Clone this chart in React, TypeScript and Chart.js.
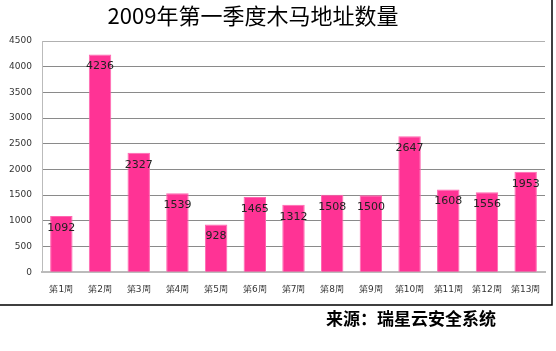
import React, { useEffect, useRef } from "react";
import { Chart, registerables } from "chart.js";

Chart.register(...registerables);

const titleText = "2009年第一季度木马地址数量";
const sourceText = "来源：瑞星云安全系统";
const weeks = ["第1周", "第2周", "第3周", "第4周", "第5周", "第6周", "第7周", "第8周", "第9周", "第10周", "第11周", "第12周", "第13周"];
const counts = [1092, 4236, 2327, 1539, 928, 1465, 1312, 1508, 1500, 2647, 1608, 1556, 1953];
const yMax = 4500;
const yStep = 500;

const labelPlugin = {
  id: "barLabels",
  afterDatasetsDraw(chart: any) {
    const ctx = chart.ctx;
    const meta = chart.getDatasetMeta(0);
    ctx.save();
    ctx.font = "11px 'DejaVu Sans', sans-serif";
    ctx.fillStyle = "#222";
    ctx.textAlign = "center";
    ctx.textBaseline = "middle";
    meta.data.forEach((bar: any, i: number) => {
      ctx.fillText(String(counts[i]), bar.x, bar.y + 12);
    });
    ctx.restore();
  },
};

const decorPlugin = {
  id: "decor",
  afterDraw(chart: any) {
    const ctx = chart.ctx;
    ctx.save();
    ctx.strokeStyle = "#000";
    ctx.lineWidth = 1.5;
    ctx.beginPath();
    ctx.moveTo(552, 0);
    ctx.lineTo(552, 305);
    ctx.lineTo(0, 305);
    ctx.stroke();
    ctx.fillStyle = "#000";
    ctx.textBaseline = "middle";
    ctx.textAlign = "center";
    ctx.font = "22px 'Noto Sans CJK SC'";
    ctx.fillText(titleText, 253, 16);
    ctx.textAlign = "right";
    ctx.font = "bold 17px 'Noto Sans CJK SC'";
    ctx.fillText(sourceText, 496, 319);
    ctx.restore();
  },
};

export default function App() {
  const ref = useRef<HTMLCanvasElement>(null);
  useEffect(() => {
    document.body.style.margin = "0";
    const chart = new Chart(ref.current!, {
      type: "bar",
      data: {
        labels: weeks,
        datasets: [
          {
            data: counts,
            backgroundColor: "#FF3395",
            borderColor: "#FF66B0",
            borderWidth: 1,
            categoryPercentage: 1,
            barPercentage: 0.58,
          },
        ],
      },
      options: {
        animation: false,
        responsive: false,
        maintainAspectRatio: false,
        layout: { padding: { left: 0, right: 11, top: 41, bottom: 52 } },
        plugins: {
          legend: { display: false },
          tooltip: { enabled: false },
          title: { display: false },
        },
        scales: {
          x: {
            grid: { display: false },
            border: { color: "#bbb", width: 2 },
            ticks: {
              color: "#333",
              font: { family: "'DejaVu Sans', sans-serif", size: 9 },
              maxRotation: 0,
              autoSkip: false,
              padding: 4,
            },
          },
          y: {
            min: 0,
            max: yMax,
            afterFit(scale: any) {
              scale.width = 42;
            },
            ticks: {
              stepSize: yStep,
              color: "#333",
              font: { family: "'DejaVu Sans', sans-serif", size: 9 },
              padding: 10,
              callback: (v: any) => String(v),
            },
            grid: {
              color: (c: any) => (c.tick && c.tick.value === yMax ? "#b0b0b0" : "#8a8a8a"),
              drawTicks: false,
            },
            border: { color: "#bbb", width: 1 },
          },
        },
      },
      plugins: [labelPlugin, decorPlugin],
    });
    return () => chart.destroy();
  }, []);
  return <canvas ref={ref} width={556} height={351} style={{ display: "block" }} />;
}
